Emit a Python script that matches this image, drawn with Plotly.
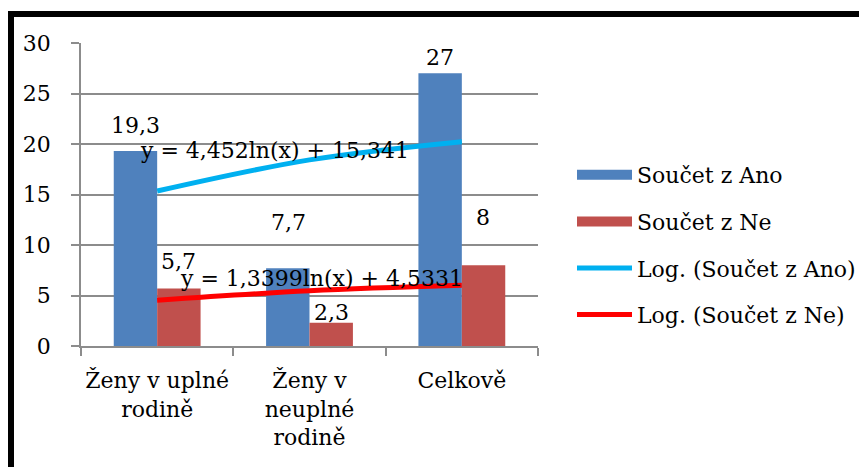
import plotly.graph_objects as go

categories = ["Ženy v uplné<br>rodině", "Ženy v<br>neuplné<br>rodině", "Celkově"]
ano = [19.3, 7.7, 27]
ne = [5.7, 2.3, 8]
ano_labels = ["19,3", "7,7", "27"]
ne_labels = ["5,7", "2,3", "8"]
trend_ano = [15.341, 18.427, 20.232]
trend_ne = [4.533, 5.462, 6.005]
eq_ano = "y = 4,452ln(x) + 15,341"
eq_ne = "y = 1,3399ln(x) + 4,5331"
y_ticks = [0, 5, 10, 15, 20, 25, 30]

FONT = "DejaVu Serif, Liberation Serif, serif"
FS = 22
BLUE = "#4F81BD"
RED = "#C0504D"
CYAN = "#00B0F0"
TRED = "#FF0000"
GRID = "#8C8C8C"

W, H = 859, 459
L, T = 73, 35
PW, PH = 457, 303
R = W - L - PW
B = H - T - PH

fig = go.Figure()
fig.add_trace(go.Bar(x=categories, y=ano, marker_color=BLUE, showlegend=False,
                     marker_line_width=0))
fig.add_trace(go.Bar(x=categories, y=ne, marker_color=RED, showlegend=False,
                     marker_line_width=0))
fig.add_trace(go.Scatter(x=categories, y=trend_ano, mode="lines", line_shape="spline",
                         line=dict(color=CYAN, width=5), showlegend=False))
fig.add_trace(go.Scatter(x=categories, y=trend_ne, mode="lines", line_shape="spline",
                         line=dict(color=TRED, width=5), showlegend=False))

# legend entries
legend_items = [("Součet z Ano", BLUE, 14), ("Součet z Ne", RED, 14),
                ("Log. (Součet z Ano)", CYAN, 5), ("Log. (Součet z Ne)", TRED, 5)]
for i, (name, col, w) in enumerate(legend_items):
    fig.add_trace(go.Scatter(x=[None], y=[None], mode="lines", name=name,
                             legendgroup=f"g{i}", line=dict(color=col, width=w)))

# data labels
ano_shift = [26, 46, 16]
ne_shift = [27, 10, 48]
half = 21.5
for i, c in enumerate(categories):
    fig.add_annotation(x=c, y=ano[i], text=ano_labels[i], showarrow=False,
                       xshift=-half, yshift=ano_shift[i], yanchor="middle",
                       font=dict(family=FONT, size=FS, color="black"))
    fig.add_annotation(x=c, y=ne[i], text=ne_labels[i], showarrow=False,
                       xshift=half, yshift=ne_shift[i], yanchor="middle",
                       font=dict(family=FONT, size=FS, color="black"))

# equation labels
fig.add_annotation(x=0.77, y=19.4, xref="x", yref="y", text=eq_ano, showarrow=False,
                   font=dict(family=FONT, size=FS, color="black"))
fig.add_annotation(x=1.08, y=6.7, xref="x", yref="y", text=eq_ne, showarrow=False,
                   font=dict(family=FONT, size=FS, color="black"))

OX, OY = 8, 8  # page offset of the figure

def px_to_paper_x(px):
    return (px - OX - L) / PW

def px_to_paper_y(py):
    return (H - B - (py - OY)) / PH

# frame: left and top thick borders
fig.add_shape(type="line", xref="paper", yref="paper",
              x0=px_to_paper_x(11), x1=px_to_paper_x(11),
              y0=px_to_paper_y(11), y1=px_to_paper_y(480),
              line=dict(color="black", width=6))
fig.add_shape(type="line", xref="paper", yref="paper",
              x0=px_to_paper_x(8), x1=px_to_paper_x(880),
              y0=px_to_paper_y(14), y1=px_to_paper_y(14),
              line=dict(color="black", width=6))

fig.update_layout(
    width=W, height=H,
    margin=dict(l=L, r=R, t=T, b=B, autoexpand=False),
    paper_bgcolor="white", plot_bgcolor="white",
    barmode="group", bargap=0.43, bargroupgap=0,
    font=dict(family=FONT, size=FS, color="black"),
    legend=dict(x=px_to_paper_x(572), y=px_to_paper_y(154), xanchor="left", yanchor="top",
                font=dict(family=FONT, size=FS, color="black"),
                tracegroupgap=15, itemwidth=55, bgcolor="rgba(0,0,0,0)"),
    xaxis=dict(type="category", showline=True, linecolor=GRID, linewidth=1.5,
               ticks="outside", ticklen=8, tickcolor=GRID, tickwidth=1.5,
               tickson="boundaries", showgrid=False, zeroline=False, tickangle=0,
               tickfont=dict(family=FONT, size=FS), ticklabelstandoff=14),
    yaxis=dict(range=[0, 30], tickvals=y_ticks, showline=True, linecolor=GRID, linewidth=1.5,
               ticks="outside", ticklen=8, tickcolor=GRID, tickwidth=1.5,
               showgrid=True, gridcolor=GRID, gridwidth=1.5, zeroline=False,
               tickfont=dict(family=FONT, size=FS), ticklabelstandoff=16),
)

fig.write_html("out.html")
